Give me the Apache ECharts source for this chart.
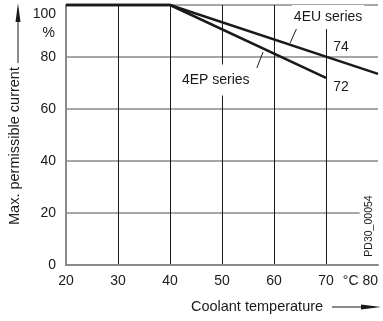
<!DOCTYPE html>
<html>
<head>
<meta charset="utf-8">
<script src="https://cdn.jsdelivr.net/npm/echarts@6/dist/echarts.min.js"></script>
<style>
  html, body { margin: 0; padding: 0; background: #fff; }
  #chart { width: 383px; height: 321px; }
</style>
</head>
<body>
<div id="chart"></div>
<script>
// 数据
const temps4EU = [20, 40, 80]
const current4EU = [100, 100, 73.5]
const temps4EP = [20, 40, 70]
const current4EP = [100, 100, 72]
const xTicks = [20, 30, 40, 50, 60, 70, 80]
const yTicks = [0, 20, 40, 60, 80, 100]

const font = 'Liberation Sans, Arial, Helvetica, sans-serif'
const ink = '#1a1a1a'
const gray = '#8a8a8a'

const myChart = echarts.init(document.getElementById('chart'))

const noteLabel = {
    show: true,
    formatter: '{b}',
    color: ink,
    fontFamily: font,
    fontSize: 14
}

myChart.setOption({
    animation: false,
    grid: { left: 66, top: 5, right: 5, bottom: 56, outerBoundsMode: 'none' },
    xAxis: {
        type: 'value',
        min: xTicks[0],
        max: xTicks[xTicks.length - 1],
        interval: 10,
        axisLine: { show: true, lineStyle: { color: gray, width: 2 } },
        axisTick: { show: false },
        axisLabel: {
            color: ink,
            fontFamily: font,
            fontSize: 14,
            margin: 9,
            alignMaxLabel: 'right',
            formatter: function (v) {
                return v === 80 ? '°C 80' : String(v)
            }
        },
        splitLine: {
            show: true,
            showMinLine: false,
            showMaxLine: false,
            lineStyle: { color: ink, width: 1 }
        }
    },
    yAxis: {
        type: 'value',
        min: yTicks[0],
        max: yTicks[yTicks.length - 1],
        interval: 20,
        axisLine: { show: true, lineStyle: { color: gray, width: 2 } },
        axisTick: { show: false },
        axisLabel: {
            color: ink,
            fontFamily: font,
            fontSize: 14,
            margin: 10,
            padding: [2, 0, 0, 0],
            verticalAlignMaxLabel: 'top'
        },
        splitLine: {
            show: true,
            showMinLine: false,
            lineStyle: { color: gray, width: 1.5 }
        }
    },
    series: [
        {
            name: '4EU series',
            type: 'line',
            data: temps4EU.map((t, i) => [t, current4EU[i]]),
            symbol: 'none',
            clip: false,
            lineStyle: { color: ink, width: 2.5 },
            z: 5,
            markPoint: {
                symbol: 'rect',
                symbolSize: 0,
                label: noteLabel,
                data: [
                    { name: '4EU series', coord: [70.4, 95.4], label: { backgroundColor: '#fff', padding: [4, 2, 6, 2] } },
                    { name: '74', coord: [72.9, 83.8] }
                ]
            },
            markLine: {
                symbol: 'none',
                silent: true,
                label: { show: false },
                lineStyle: { color: ink, width: 1, type: 'solid' },
                data: [[{ coord: [64.4, 91.2] }, { coord: [63.1, 85.4] }]]
            }
        },
        {
            name: '4EP series',
            type: 'line',
            data: temps4EP.map((t, i) => [t, current4EP[i]]),
            symbol: 'none',
            clip: false,
            lineStyle: { color: ink, width: 2.5 },
            z: 5,
            markPoint: {
                symbol: 'rect',
                symbolSize: 0,
                label: noteLabel,
                data: [
                    { name: '4EP series', coord: [48.8, 71.2], label: { backgroundColor: '#fff', padding: [7, 2, 10, 2] } },
                    { name: '72', coord: [72.9, 68.5] },
                    { name: 'PD30_00054', coord: [78.3, 15], label: { fontSize: 10.5, rotate: 90, backgroundColor: '#fff', padding: [4, 2, 4, 2] } }
                ]
            },
            markLine: {
                symbol: 'none',
                silent: true,
                label: { show: false },
                lineStyle: { color: ink, width: 1, type: 'solid' },
                data: [[{ coord: [57.9, 81.9] }, { coord: [56.7, 75.8] }]]
            }
        }
    ],
    graphic: [
        {
            type: 'text',
            x: 55, y: 33,
            style: { text: '%', fill: ink, font: '14px ' + font, align: 'right', verticalAlign: 'middle' }
        },
        {
            type: 'text',
            x: 15, y: 146,
            rotation: Math.PI / 2,
            style: { text: 'Max. permissible current', fill: ink, font: '14.5px ' + font, align: 'center', verticalAlign: 'middle' }
        },
        {
            type: 'line',
            shape: { x1: 18, y1: 63, x2: 18, y2: 16 },
            style: { stroke: ink, lineWidth: 1 }
        },
        {
            type: 'polygon',
            shape: { points: [[18, 3], [15.5, 22], [20.5, 22]] },
            style: { fill: ink }
        },
        {
            type: 'text',
            x: 257, y: 307,
            style: { text: 'Coolant temperature', fill: ink, font: '14.5px ' + font, align: 'center', verticalAlign: 'middle' }
        },
        {
            type: 'line',
            shape: { x1: 332, y1: 307, x2: 365, y2: 307 },
            style: { stroke: ink, lineWidth: 1 }
        },
        {
            type: 'polygon',
            shape: { points: [[381, 307], [361, 304.5], [361, 309.5]] },
            style: { fill: ink }
        }
    ]
})
</script>
</body>
</html>
